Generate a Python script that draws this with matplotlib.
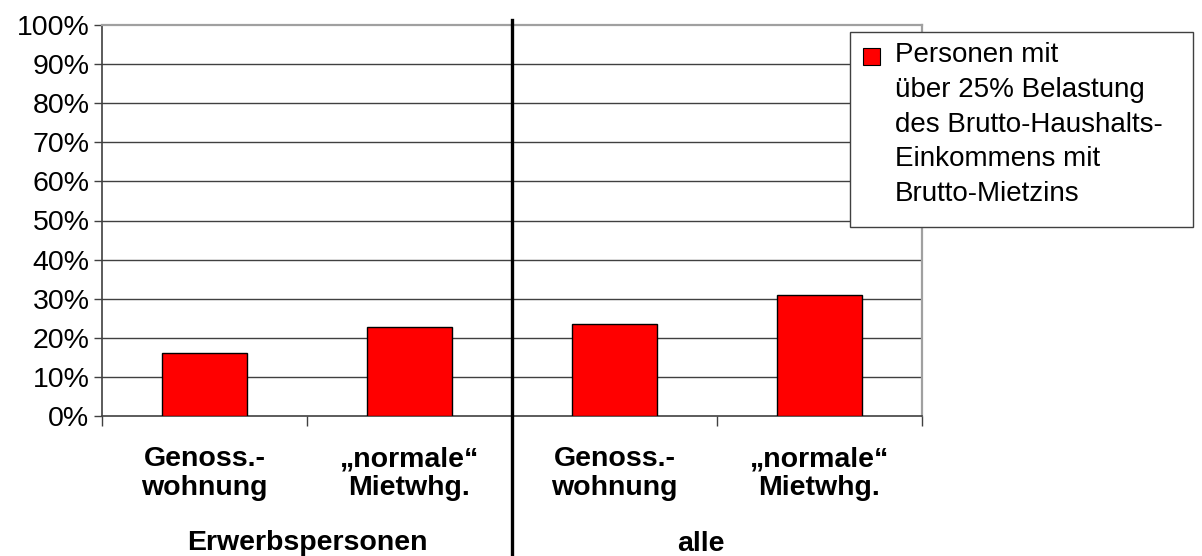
import matplotlib.pyplot as plt
from matplotlib.patches import Rectangle

plt.rcParams['font.family'] = ['Liberation Sans', 'DejaVu Sans']

# Anteil Personen mit ueber 25% Mietbelastung
categories = ['Genoss.-\nwohnung', '\u201enormale\u201c\nMietwhg.',
              'Genoss.-\nwohnung', '\u201enormale\u201c\nMietwhg.']
groups = ['Erwerbspersonen', 'alle']
values = [16.1, 22.8, 23.5, 30.9]
legend_label = ('Personen mit\n\u00fcber 25% Belastung\ndes Brutto-Haushalts-\n'
                'Einkommens mit\nBrutto-Mietzins')

W, H = 1202, 556
fig = plt.figure(figsize=(W / 100, H / 100), dpi=100)
ax = fig.add_axes([102 / W, (H - 416) / H, 820 / W, 391 / H])

x = range(len(values))
ax.bar(x, values, width=0.41, color='#ff0000', edgecolor='black',
       linewidth=1.0, zorder=3)

ax.set_xlim(-0.5, 3.5)
ax.set_ylim(0, 100)
ax.set_yticks(range(0, 101, 10))
ax.set_yticklabels([f'{v}%' for v in range(0, 101, 10)], fontsize=20.5)
ax.tick_params(axis='y', length=6, width=1, color='#404040', pad=3)
for v in range(10, 100, 10):
    ax.axhline(v, color='#404040', linewidth=1.0, zorder=1)

# Trennstriche zwischen den Kategorien
ax.set_xticks([-0.5, 0.5, 1.5, 2.5, 3.5])
ax.set_xticklabels([])
ax.tick_params(axis='x', length=7, width=1, color='#404040')

for s in ('left', 'bottom'):
    ax.spines[s].set_color('#404040')
    ax.spines[s].set_linewidth(1.2)
for s in ('top', 'right'):
    ax.spines[s].set_color('#a0a0a0')
    ax.spines[s].set_linewidth(1.6)

tr = ax.get_xaxis_transform()
for i, lab in enumerate(categories):
    ax.text(i, -0.078, lab, transform=tr, ha='center', va='top',
            fontsize=20.5, fontweight='bold', linespacing=1.13)
ax.text(0.5, -0.292, groups[0], transform=tr, ha='center', va='top',
        fontsize=20.5, fontweight='bold')
ax.text(2.42, -0.293, groups[1], transform=tr, ha='center', va='top',
        fontsize=20.5, fontweight='bold')

# senkrechte Trennlinie zwischen den Gruppen
ax.axvline(1.5, ymin=-0.36, ymax=1.013, color='black', linewidth=2.4,
           clip_on=False, zorder=5)

# Legende
fig.patches.append(Rectangle((850 / W, 1 - 227 / H), 343 / W, 195 / H,
                             transform=fig.transFigure, facecolor='white',
                             edgecolor='#404040', linewidth=1.0, zorder=10))
fig.patches.append(Rectangle((863 / W, 1 - 65 / H), 17 / W, 17 / H,
                             transform=fig.transFigure, facecolor='#ff0000',
                             edgecolor='black', linewidth=0.8, zorder=11))
fig.text(895 / W, 1 - 42 / H, legend_label, ha='left', va='top',
         fontsize=20, linespacing=1.44, zorder=12)

fig.savefig('out.png', dpi=100)
